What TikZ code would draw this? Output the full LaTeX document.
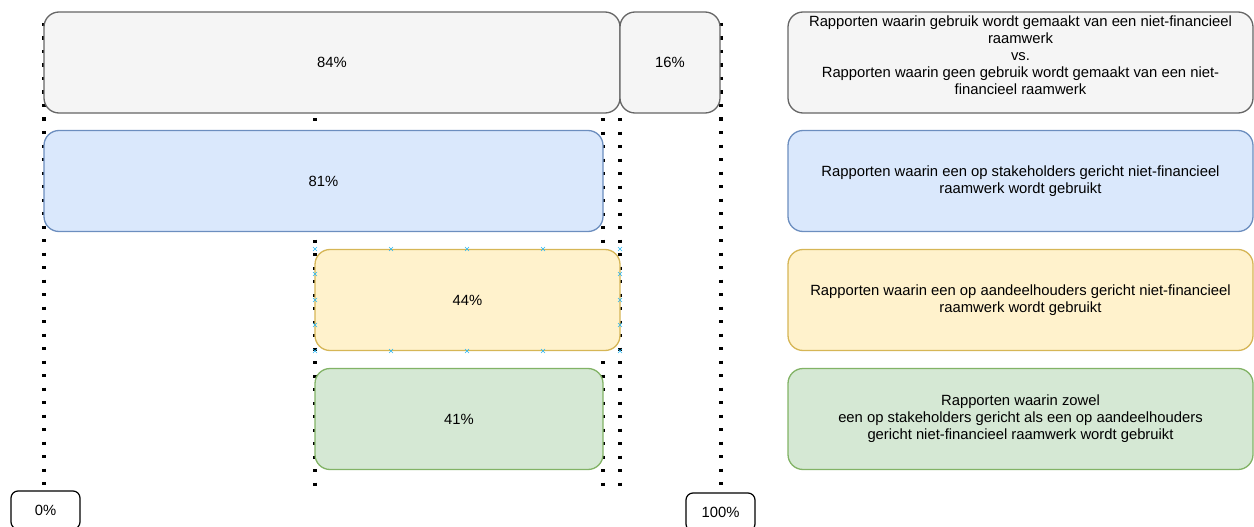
\documentclass[tikz,border=0pt]{standalone}
\usepackage{fontspec}
\setmainfont{Liberation Sans}
\usetikzlibrary{positioning}
\definecolor{greyfill}{HTML}{F5F5F5}
\definecolor{greyline}{HTML}{666666}
\definecolor{bluefill}{HTML}{DAE8FC}
\definecolor{blueline}{HTML}{6C8EBF}
\definecolor{yellowfill}{HTML}{FFF2CC}
\definecolor{yellowline}{HTML}{D6B656}
\definecolor{greenfill}{HTML}{D5E8D4}
\definecolor{greenline}{HTML}{82B366}
\definecolor{markblue}{HTML}{29B6F2}
\tikzset{
  bar/.style={draw, rounded corners=15pt, line width=1.3pt, inner sep=0pt,
    minimum height=101pt, align=center, font=\fontsize{14.8}{17}\selectfont},
  greybar/.style={bar, draw=greyline, fill=greyfill},
  bluebar/.style={bar, draw=blueline, fill=bluefill},
  yellowbar/.style={bar, draw=yellowline, fill=yellowfill},
  greenbar/.style={bar, draw=greenline, fill=greenfill},
  tick/.style={draw, rounded corners=7pt, line width=1.2pt, minimum width=69pt,
    minimum height=38pt, font=\fontsize{14.8}{17}\selectfont},
  guide/.style={line width=3.2pt, dash pattern=on 3.2pt off 10.3pt},
}
\begin{document}
\begin{tikzpicture}[x=1pt,y=-1pt]
  \useasboundingbox (0,0) rectangle (1254,527);
  % Guides (behind the bars)
  \coordinate (g0) at (44,23);
  \coordinate (g1) at (315,118);
  \coordinate (g2) at (603,118);
  \coordinate (g3) at (620,118);
  \coordinate (g4) at (721,23);
  \coordinate (g0e) at (44,487);
  \coordinate (g1e) at (315,487);
  \coordinate (g2e) at (603,487);
  \coordinate (g3e) at (620,487);
  \coordinate (g4e) at (721,487);
  \foreach \g in {0,...,4}
    \draw[guide] (g\g) -- (g\g e);
  % Bars
  \node[greybar, minimum width=576pt] (used) at (332,62.5) {84\%};
  \node[greybar, minimum width=100pt] (notused) at (670,62.5) {16\%};
  \node[bluebar, minimum width=559pt] (stake) at (323.5,181) {81\%};
  \node[yellowbar, minimum width=305pt] (share) at (467.5,300) {44\%};
  \node[greenbar, minimum width=288pt] (both) at (459,419) {41\%};
  % connection marks on the selected bar
  \foreach \px in {315,391,467,543,620}
    \foreach \py in {249,351}
      \draw[markblue, line width=0.6pt] (\px-2,\py-2) -- (\px+2,\py+2) (\px-2,\py+2) -- (\px+2,\py-2);
  \foreach \px in {315,620}
    \foreach \py in {274,300,325}
      \draw[markblue, line width=0.6pt] (\px-2,\py-2) -- (\px+2,\py+2) (\px-2,\py+2) -- (\px+2,\py-2);
  % Legend
  \node[greybar, minimum width=465pt, text depth=15pt] (usedtxt) at (1020.5,62.5)
    {Rapporten waarin gebruik wordt gemaakt van een niet-financieel\\raamwerk\\vs.\\Rapporten waarin geen gebruik wordt gemaakt van een niet-\\financieel raamwerk};
  \node[bluebar, minimum width=465pt] (staketxt) at (1020.5,181)
    {Rapporten waarin een op stakeholders gericht niet-financieel\\raamwerk wordt gebruikt};
  \node[yellowbar, minimum width=465pt] (sharetxt) at (1020.5,300)
    {Rapporten waarin een op aandeelhouders gericht niet-financieel\\raamwerk wordt gebruikt};
  \node[greenbar, minimum width=465pt] (bothtxt) at (1020.5,419)
    {Rapporten waarin zowel\\een op stakeholders gericht als een op aandeelhouders\\gericht niet-financieel raamwerk wordt gebruikt};
  % Scale
  \node[tick] (zero) at (45.5,510) {0\%};
  \node[tick] (hundred) at (720.5,512) {100\%};
\end{tikzpicture}
\end{document}
